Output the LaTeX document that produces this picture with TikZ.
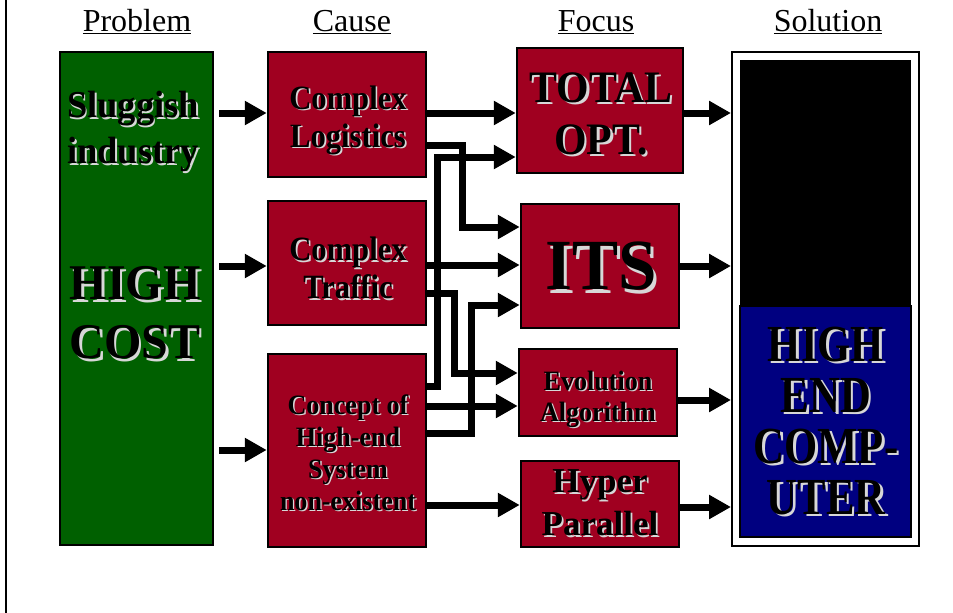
\documentclass[tikz,border=0pt]{standalone}
\usepackage{fontspec}
\setmainfont{Liberation Serif}
\newfontfamily\fsA[FakeStretch=0.82]{Liberation Serif}
\newfontfamily\fsB[FakeStretch=0.90]{Liberation Serif}
\newfontfamily\fsC[FakeStretch=0.93]{Liberation Serif}
\newfontfamily\fsD[FakeStretch=0.96]{Liberation Serif}
\usetikzlibrary{arrows.meta}

\definecolor{boxred}{RGB}{160,0,32}
\definecolor{boxgreen}{RGB}{0,96,0}
\definecolor{boxblue}{RGB}{0,0,128}
\definecolor{shade}{RGB}{215,215,215}

% embossed text: light copy offset down-right, black copy on top
\newcommand\shd[1]{\leavevmode\rlap{\kern0.05em\raisebox{-0.05em}{\textcolor{shade}{#1}}}#1}

\begin{document}
\begin{tikzpicture}[x=1pt,y=-1pt,
  box/.style={draw=black, line width=2.5pt, inner sep=0pt},
  redbox/.style={box, fill=boxred},
  head/.style={font=\fontsize{32}{36}\selectfont, inner sep=0pt},
  arr/.style={line width=7pt, -{Triangle[length=22pt,width=23pt]}},
  lbl/.style={inner sep=0pt, align=center, text=black}
]
\useasboundingbox (0,0) rectangle (953,613);
\fill[white] (0,0) rectangle (953,613);
\draw[line width=2pt] (6,0) -- (6,613);

% column headings
\node[head] (hP) at (137,22) {\underline{Problem}};
\node[head] (hC) at (352,22) {\underline{Cause}};
\node[head] (hF) at (596,22) {\underline{Focus}};
\node[head] (hS) at (828,22) {\underline{Solution}};

% boxes
\node[box, fill=boxgreen, minimum width=153pt, minimum height=493pt] (prob) at (136.5,298.5) {};
\node[redbox, minimum width=158pt, minimum height=125pt] (cl) at (347,114.5) {};
\node[redbox, minimum width=158pt, minimum height=124pt] (ct) at (347,263) {};
\node[redbox, minimum width=158pt, minimum height=193pt] (ch) at (347,450.5) {};
\node[redbox, minimum width=166pt, minimum height=125pt] (tot) at (600,110.5) {};
\node[redbox, minimum width=158pt, minimum height=124pt] (its) at (600,266) {};
\node[redbox, minimum width=158pt, minimum height=87pt] (evo) at (598,392.5) {};
\node[redbox, minimum width=158pt, minimum height=86pt] (hyp) at (600,504) {};
\node[draw=black, line width=2pt, fill=white, minimum width=187pt, minimum height=494pt, inner sep=0pt] (sol) at (825.5,299) {};
\node[fill=black, minimum width=171pt, minimum height=246pt, inner sep=0pt] (solTop) at (825.5,183) {};
\node[draw=black, line width=2pt, fill=boxblue, minimum width=171pt, minimum height=231pt, inner sep=0pt] (solBot) at (825.5,421.5) {};

% box texts
\node[lbl, font=\fsD\bfseries\fontsize{38}{46}\selectfont] (tp1) at (133,132) {\shd{Sluggish}\\\shd{industry}};
\node[lbl, font=\fsD\bfseries\fontsize{50}{59}\selectfont] (tp2) at (135,314) {\shd{HIGH}\\\shd{COST}};
\node[lbl, font=\fsB\bfseries\fontsize{34}{38}\selectfont] (tcl) at (348,121) {\shd{Complex}\\\shd{Logistics}};
\node[lbl, font=\fsB\bfseries\fontsize{34}{38}\selectfont] (tct) at (348,269) {\shd{Complex}\\\shd{Traffic}};
\node[lbl, font=\fsC\bfseries\fontsize{28}{32}\selectfont] (tch) at (348,453) {\shd{Concept of}\\\shd{High-end}\\\shd{System}\\\shd{non-existent}};
\node[lbl, font=\fsC\bfseries\fontsize{45}{52}\selectfont] (ttot) at (601,115) {\shd{TOTAL}\\\shd{OPT.}};
\node[lbl, font=\fsD\bfseries\fontsize{72}{72}\selectfont] (tits) at (601,268) {\shd{ITS}};
\node[lbl, font=\fsC\bfseries\fontsize{28}{31}\selectfont] (tevo) at (598,400) {\shd{Evolution}\\\shd{Algorithm}};
\node[lbl, font=\bfseries\fontsize{35}{43}\selectfont] (thyp) at (600,504) {\shd{Hyper}\\\shd{Parallel}};
\node[lbl, font=\fsA\bfseries\fontsize{52}{51}\selectfont] (ts) at (826,422) {\shd{HIGH}\\\shd{END}\\\shd{COMP-}\\\shd{UTER}};

% problem -> cause
\draw[arr] ([xshift=5pt]prob.east |- 0,113) -- (cl.west |- 0,113);
\draw[arr] ([xshift=5pt]prob.east |- 0,266) -- (ct.west |- 0,266);
\draw[arr] ([xshift=5pt]prob.east |- 0,450) -- (ch.west |- 0,450);

% cause -> focus
\draw[arr] (cl.east |- 0,113) -- (tot.west |- 0,113);
\draw[arr] (cl.east |- 0,145) -| (462,227) -- (its.west |- 0,227);
\draw[arr] (ch.east |- 0,386) -| (437,157) -- (tot.west |- 0,157);
\draw[arr] (ct.east |- 0,265) -- (its.west |- 0,265);
\draw[arr] (ct.east |- 0,293) -| (454,373) -- (evo.west |- 0,373);
\draw[arr] (ch.east |- 0,433) -| (471,305) -- (its.west |- 0,305);
\draw[arr] (ch.east |- 0,406) -- (evo.west |- 0,406);
\draw[arr] (ch.east |- 0,505) -- (hyp.west |- 0,505);

% focus -> solution
\draw[arr] (tot.east |- 0,113) -- (sol.west |- 0,113);
\draw[arr] (its.east |- 0,266) -- (sol.west |- 0,266);
\draw[arr] (evo.east |- 0,400) -- (sol.west |- 0,400);
\draw[arr] (hyp.east |- 0,507) -- (sol.west |- 0,507);
\end{tikzpicture}
\end{document}
